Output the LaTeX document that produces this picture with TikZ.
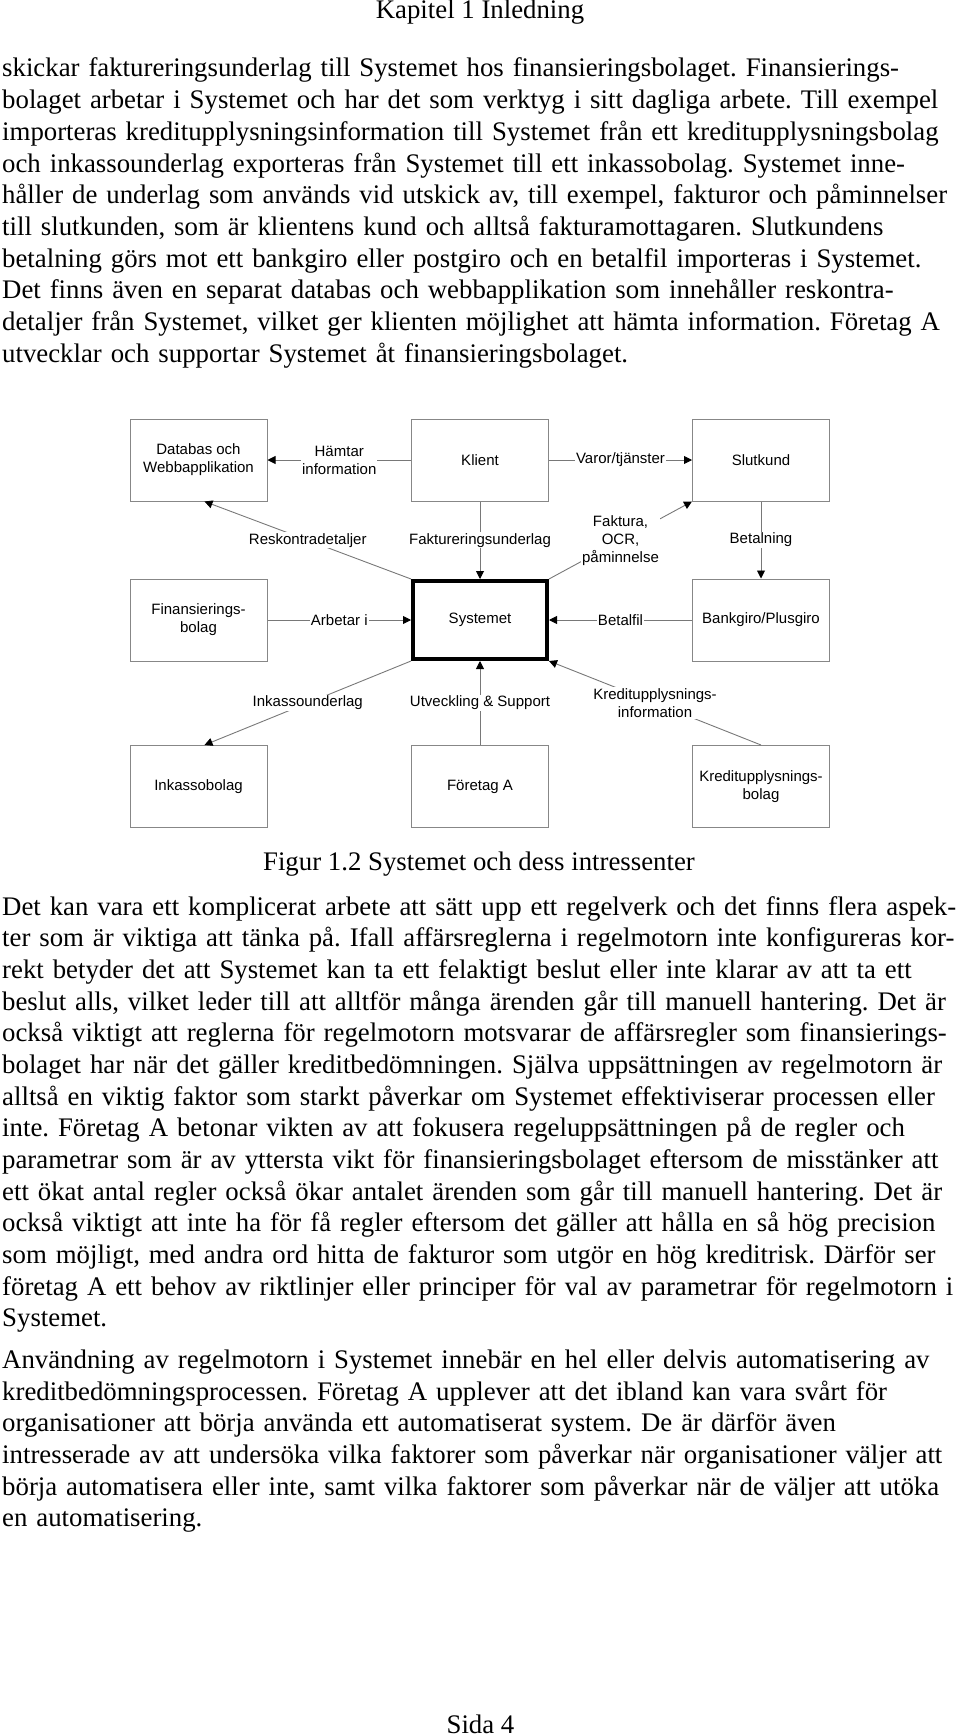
\documentclass[tikz,border=0pt]{standalone}
\usepackage{fontspec}
\setmainfont{Liberation Serif}
\newfontfamily\diafont{Liberation Sans}
\usepackage{tikz}
\usetikzlibrary{arrows.meta}
\definecolor{boxgray}{RGB}{135,135,135}
\definecolor{linegray}{RGB}{120,120,120}
\frenchspacing
\newcommand{\fl}[1]{\makebox[\linewidth][s]{#1}\\}
\tikzset{
  box/.style={draw=boxgray, line width=1pt, minimum width=137pt, minimum height=82pt, inner sep=2pt, align=center, font=\diafont\fontsize{15}{18}\selectfont},
  sysbox/.style={box, draw=black, line width=4pt, minimum width=134pt, minimum height=78pt},
  lbl/.style={fill=white, inner sep=1pt, align=center, font=\diafont\fontsize{15}{18}\selectfont},
  conn/.style={draw=linegray, line width=0.9pt},
  body/.style={text width=953pt, inner sep=0pt, anchor=base west, font=\fontsize{26.8}{31.67}\selectfont},
  pagetext/.style={inner sep=0pt, anchor=base, font=\fontsize{26.8}{31.67}\selectfont}
}
\begin{document}
\begin{tikzpicture}[x=1pt, y=-1pt, >={Triangle[length=8pt, width=8pt, color=black]}]
\useasboundingbox (0,0) rectangle (960,1736);
\node[pagetext] (hdr) at (480,19) {Kapitel 1 Inledning};
\node[body] (p1) at (2,77) {%
\fl{skickar faktureringsunderlag till Systemet hos finansieringsbolaget. Finansierings-}
\fl{bolaget arbetar i Systemet och har det som verktyg i sitt dagliga arbete. Till exempel}
\fl{importeras kreditupplysningsinformation till Systemet från ett kreditupplysningsbolag}
\fl{och inkassounderlag exporteras från Systemet till ett inkassobolag. Systemet inne-}
\fl{håller de underlag som används vid utskick av, till exempel, fakturor och påminnelser}
\fl{till slutkunden, som är klientens kund och alltså fakturamottagaren. Slutkundens}
\fl{betalning görs mot ett bankgiro eller postgiro och en betalfil importeras i Systemet.}
\fl{Det finns även en separat databas och webbapplikation som innehåller reskontra-}
\fl{detaljer från Systemet, vilket ger klienten möjlighet att hämta information. Företag A}
utvecklar och supportar Systemet åt finansieringsbolaget.};

\node[box] (db) at (198.5,460) {Databas och\\Webbapplikation};
\node[box] (kl) at (480,460) {Klient};
\node[box] (sk) at (761,460) {Slutkund};
\node[box] (fin) at (198.5,620) {Finansierings-\\bolag};
\node[sysbox] (sys) at (480,620) {Systemet};
\node[box] (bg) at (761,620) {Bankgiro/Plusgiro};
\node[box] (ink) at (198.5,786.5) {Inkassobolag};
\node[box] (fa) at (480,786.5) {Företag A};
\node[box] (kr) at (761,786.5) {Kreditupplysnings-\\bolag};

\draw [conn, ->] (kl) -- (db) node[lbl, pos=.5]{Hämtar\\information};
\draw [conn, ->] (kl) -- (sk) node[lbl, pos=.5]{Varor/tjänster};
\draw [conn, ->] (kl) -- (sys) node[lbl, pos=.5]{Faktureringsunderlag};
\draw [conn, ->] (sys.north west) -- ([xshift=6pt]db.south) node[lbl, pos=.5]{Reskontradetaljer};
\draw [conn, ->] (sys.north east) -- (sk.south west) node[lbl, pos=.5]{Faktura,\\OCR,\\påminnelse};
\draw [conn, ->] (sk) -- (bg) node[lbl, pos=.5]{Betalning};
\draw [conn, ->] (fin) -- (sys) node[lbl, pos=.5]{Arbetar i};
\draw [conn, ->] (bg) -- (sys) node[lbl, pos=.5]{Betalfil};
\draw [conn, ->] (sys.south west) -- ([xshift=6pt]ink.north) node[lbl, pos=.5]{Inkassounderlag};
\draw [conn, ->] (fa) -- (sys) node[lbl, pos=.5]{Utveckling \& Support};
\draw [conn, ->] (kr.north) -- (sys.south east) node[lbl, pos=.5]{Kreditupplysnings-\\information};

\node[pagetext] (cap) at (479,870) {Figur 1.2 Systemet och dess intressenter};
\node[body] (p2) at (2,915) {%
\fl{Det kan vara ett komplicerat arbete att sätt upp ett regelverk och det finns flera aspek-}
\fl{ter som är viktiga att tänka på. Ifall affärsreglerna i regelmotorn inte konfigureras kor-}
\fl{rekt betyder det att Systemet kan ta ett felaktigt beslut eller inte klarar av att ta ett}
\fl{beslut alls, vilket leder till att alltför många ärenden går till manuell hantering. Det är}
\fl{också viktigt att reglerna för regelmotorn motsvarar de affärsregler som finansierings-}
\fl{bolaget har när det gäller kreditbedömningen. Själva uppsättningen av regelmotorn är}
\fl{alltså en viktig faktor som starkt påverkar om Systemet effektiviserar processen eller}
\fl{inte. Företag A betonar vikten av att fokusera regeluppsättningen på de regler och}
\fl{parametrar som är av yttersta vikt för finansieringsbolaget eftersom de misstänker att}
\fl{ett ökat antal regler också ökar antalet ärenden som går till manuell hantering. Det är}
\fl{också viktigt att inte ha för få regler eftersom det gäller att hålla en så hög precision}
\fl{som möjligt, med andra ord hitta de fakturor som utgör en hög kreditrisk. Därför ser}
\fl{företag A ett behov av riktlinjer eller principer för val av parametrar för regelmotorn i}
Systemet.};
\node[body] (p3) at (2,1368.5) {%
\fl{Användning av regelmotorn i Systemet innebär en hel eller delvis automatisering av}
\fl{kreditbedömningsprocessen. Företag A upplever att det ibland kan vara svårt för}
\fl{organisationer att börja använda ett automatiserat system. De är därför även}
\fl{intresserade av att undersöka vilka faktorer som påverkar när organisationer väljer att}
\fl{börja automatisera eller inte, samt vilka faktorer som påverkar när de väljer att utöka}
en automatisering.};
\node[pagetext] (sida) at (480.5,1733.5) {Sida 4};
\end{tikzpicture}
\end{document}
